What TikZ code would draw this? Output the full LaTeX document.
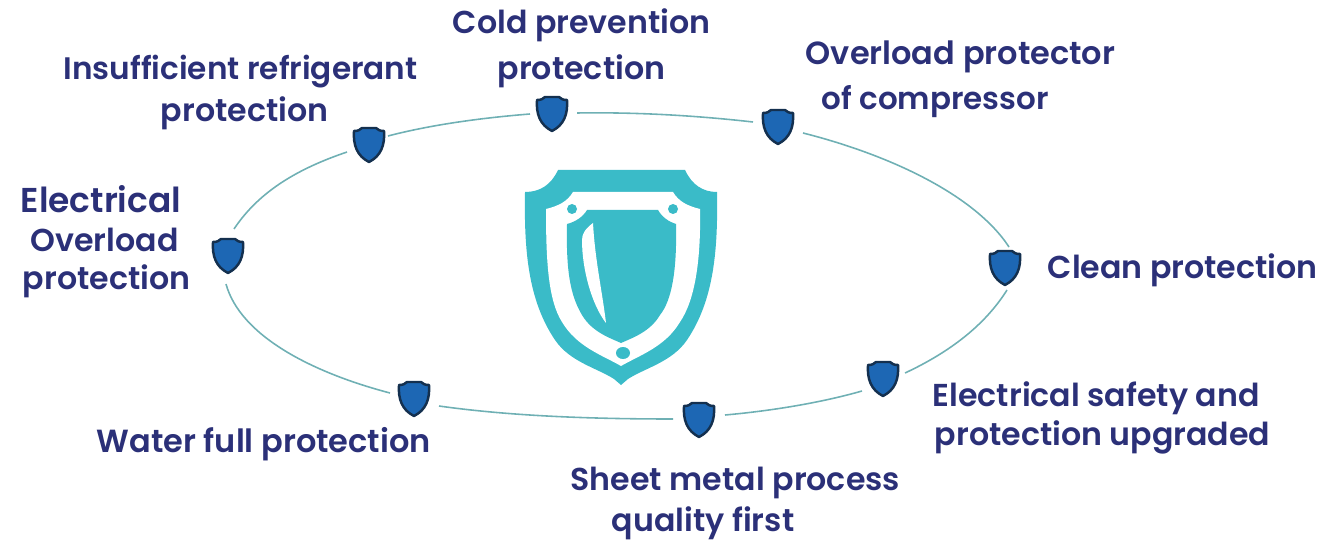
\documentclass[tikz,border=0pt]{standalone}
\usepackage{fontspec}
\setmainfont{Poppins}[BoldFont={Poppins SemiBold}]
\definecolor{navy}{HTML}{2B3078}
\definecolor{teal1}{HTML}{3ABBC8}
\definecolor{ringc}{HTML}{6FB0B4}
\definecolor{blue1}{HTML}{1D67B4}
\definecolor{edge1}{HTML}{14304F}
\tikzset{
 x=0.01cm,y=-0.01cm,
 lab/.style={text=navy,font=\fontsize{9}{#1}\selectfont\bfseries,align=left,inner sep=0pt,anchor=west},
 lab/.default=12.5pt,
 ring/.style={draw=ringc,line width=0.45pt},
 mini/.pic={\draw[fill=blue1,draw=edge1,line width=0.7pt,line join=round]
   (-15,-14) .. controls (-11,-14) and (-9,-15) .. (-7,-17) -- (7,-17) .. controls (9,-15) and (11,-14) .. (15,-14)
   .. controls (16,0) and (12,11) .. (0,17) .. controls (-12,11) and (-16,0) .. (-15,-14) -- cycle;}
}
\begin{document}
\begin{tikzpicture}
\useasboundingbox (0,0) rectangle (1325,540);
% ring
\draw[ring] (234,229) .. controls (260,190) and (300,168) .. (347,152);
\draw[ring] (388,136) .. controls (430,125) and (480,118) .. (530,114);
\draw[ring] (577,113) .. controls (640,112) and (700,116) .. (753,122);
\draw[ring] (803,133) .. controls (890,155) and (975,195) .. (1009,247);
\draw[ring] (1007,290) .. controls (985,325) and (950,352) .. (905,373);
\draw[ring] (862,391) .. controls (820,403) and (770,411) .. (725,415);
\draw[ring] (673,419) .. controls (590,419) and (510,416) .. (439,406);
\draw[ring] (390,393) .. controls (310,372) and (240,335) .. (226,284);
% big shield
\fill[teal1] (558,170) -- (685,170) .. controls (692,185) and (703,192) .. (717,192)
 .. controls (718,250) and (714,300) .. (687,340) .. controls (672,362) and (645,368) .. (628,379) -- (621,385) -- (614,379)
 .. controls (597,368) and (570,362) .. (555,340) .. controls (528,300) and (524,250) .. (525,192)
 .. controls (540,192) and (551,185) .. (558,170) -- cycle;
\fill[white] (573,192) -- (673,192) .. controls (679,202) and (688,206) .. (700,209)
 .. controls (701,260) and (695,300) .. (680,322) .. controls (665,347) and (640,355) .. (621,366)
 .. controls (602,355) and (577,347) .. (562,322) .. controls (548,300) and (546,260) .. (546,209)
 .. controls (558,206) and (567,202) .. (573,192) -- cycle;
\fill[teal1] (587,210) -- (658,210) .. controls (662,217) and (669,222) .. (676,224)
 .. controls (677,270) and (672,300) .. (660,315) .. controls (650,332) and (632,338) .. (621,343)
 .. controls (610,338) and (592,332) .. (582,315) .. controls (570,295) and (566,270) .. (567,224)
 .. controls (575,222) and (583,217) .. (587,210) -- cycle;
\fill[white] (593,223) .. controls (585,229) and (582,234) .. (582,240)
 .. controls (582,270) and (592,305) .. (606,323) .. controls (602,290) and (595,260) .. (593,223) -- cycle;
\fill[teal1] (572,209) circle[radius=5];
\fill[teal1] (673,209) circle[radius=5];
\fill[teal1] (623,353) ellipse[x radius=7,y radius=6];
% small shields
\foreach \p in {(552,114),(778,127),(369,145),(228,256),(1005,268),(883,379),(699,420),(414,399)}
  \pic at \p {mini};
% labels
\node[lab=13.1pt] (a) at (452,48) {Cold prevention\\\hspace*{12.8pt}protection};
\node[lab=11.95pt] (b) at (63,92) {\fontsize{8.85}{11.95pt}\selectfont Insufficient refrigerant\\\fontsize{9}{11.95pt}\selectfont\hspace*{27.6pt}protection};
\node[lab=12.8pt] (c) at (805,79.5) {\fontsize{9.1}{12.8pt}\selectfont Overload protector\\\fontsize{8.8}{12.8pt}\selectfont\hspace*{4.55pt}of compressor};
\node[lab=10.95pt] (d) at (20,242) {\fontsize{9.8}{10.95pt}\selectfont Electrical\\\fontsize{9}{10.95pt}\selectfont\hspace*{2.8pt}Overload\\\hspace*{0.6pt}protection};
\node[lab] (e) at (1047,270) {Clean protection};
\node[lab=11.1pt] (f) at (932,418) {Electrical safety and\\\hspace*{0.6pt}protection upgraded};
\node[lab=11.67pt] (g) at (570,503.5) {Sheet metal process\\\hspace*{11.7pt}quality first};
\node[lab] (h) at (96,444) {\fontsize{9.1}{12.5pt}\selectfont Water full protection};
\end{tikzpicture}
\end{document}
